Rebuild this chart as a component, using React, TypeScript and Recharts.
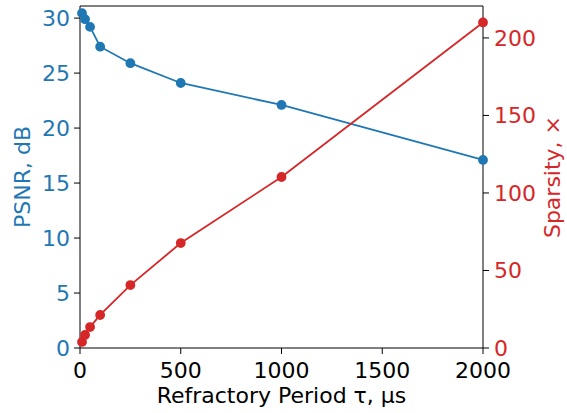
import { ComposedChart, Line, XAxis, YAxis, ReferenceLine } from "recharts";

const tau = [10, 25, 50, 100, 250, 500, 1000, 2000];
const psnr = [30.45, 29.9, 29.2, 27.4, 25.9, 24.1, 22.1, 17.1];
const sparsity = [3.9, 8.4, 13.5, 21.3, 40.6, 67.7, 110.3, 210];

const xTicks = [0, 500, 1000, 1500, 2000];
const psnrTicks = [0, 5, 10, 15, 20, 25, 30];
const sparsityTicks = [0, 50, 100, 150, 200];

const BLUE = "#1f77b4";
const RED = "#d62728";
const FONT = "DejaVu Sans";
const FS = 22;

const data = tau.map((t, i) => ({ tau: t, psnr: psnr[i], sparsity: sparsity[i] }));

export default function App() {
  return (
    <div style={{ position: "absolute", left: 0, top: 0, background: "#fff", fontFamily: FONT }}>
      <ComposedChart width={567} height={413} data={data} margin={{ top: 6, right: 0, bottom: 0, left: 0 }}>
        <XAxis
          dataKey="tau"
          type="number"
          domain={[0, 2000]}
          ticks={xTicks}
          height={65}
          stroke="#000"
          tick={{ fill: "#000", fontSize: FS, fontFamily: FONT }}
          tickSize={6}
          tickMargin={8}
          label={{ value: "Refractory Period τ, μs", position: "insideBottom", offset: 10, fill: "#000", fontSize: FS, fontFamily: FONT }}
        />
        <YAxis
          yAxisId="l"
          orientation="left"
          domain={[0, 31.1]}
          ticks={psnrTicks}
          width={80}
          stroke="#000"
          tick={{ fill: BLUE, fontSize: FS, fontFamily: FONT }}
          tickSize={6}
          tickMargin={4}
          label={{ value: "PSNR, dB", angle: -90, position: "insideLeft", offset: 22, fill: BLUE, fontSize: FS, fontFamily: FONT, style: { textAnchor: "middle" } }}
        />
        <YAxis
          yAxisId="r"
          orientation="right"
          domain={[0, 220.6]}
          ticks={sparsityTicks}
          width={84}
          stroke="#000"
          tick={{ fill: RED, fontSize: FS, fontFamily: FONT }}
          tickSize={6}
          tickMargin={5}
          label={{ value: "Sparsity, ×", angle: -90, position: "insideRight", offset: 15, fill: RED, fontSize: FS, fontFamily: FONT, style: { textAnchor: "middle" } }}
        />
        <ReferenceLine yAxisId="l" y={31.1} stroke="#000" strokeWidth={1} />
        <Line
          yAxisId="l"
          dataKey="psnr"
          stroke={BLUE}
          strokeWidth={1.8}
          dot={{ r: 4, fill: BLUE, stroke: BLUE }}
          isAnimationActive={false}
        />
        <Line
          yAxisId="r"
          dataKey="sparsity"
          stroke={RED}
          strokeWidth={1.8}
          dot={{ r: 4, fill: RED, stroke: RED }}
          isAnimationActive={false}
        />
      </ComposedChart>
    </div>
  );
}
